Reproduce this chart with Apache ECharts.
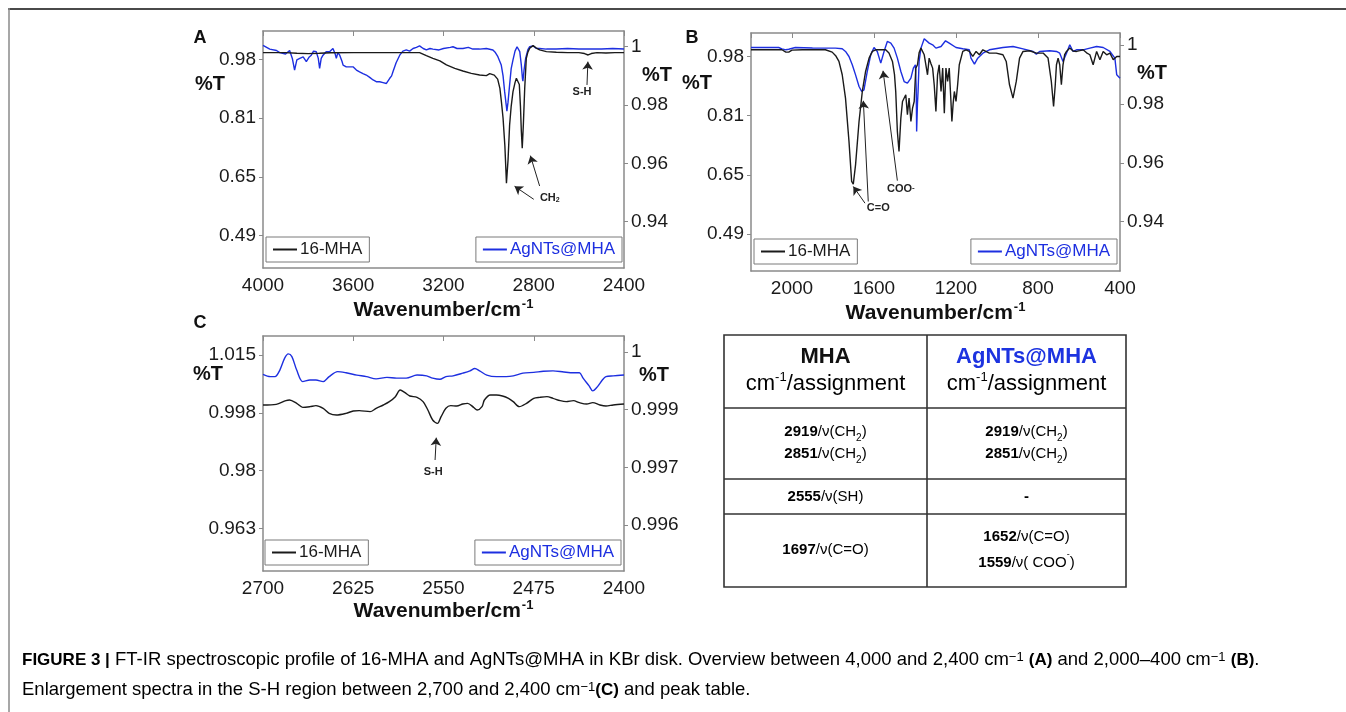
<!DOCTYPE html>
<html>
<head>
<meta charset="utf-8">
<script src="https://cdn.jsdelivr.net/npm/echarts@6/dist/echarts.min.js"></script>
<style>
html,body{margin:0;padding:0;background:#fff;}
#chart{width:1346px;height:712px;}
</style>
</head>
<body>
<div id="chart"></div>
<script>
// ---------------- DATA ----------------
// Panel A (4000-2400 cm-1): [wavenumber, %T]
const specA_MHA = [[4000,0.9985],[3950,0.9985],[3900,0.9985],[3850,0.9966],[3800,0.9957],[3750,0.9966],[3700,0.998],[3600,0.9985],[3500,0.9985],[3400,0.9985],[3306,0.9985],[3276,0.9902],[3247,0.9828],[3216,0.9754],[3187,0.9643],[3150,0.955],[3114,0.9476],[3077,0.941],[3040,0.9365],[3010,0.9346],[2995,0.940],[2975,0.936],[2960,0.925],[2950,0.8994],[2943,0.86],[2936,0.8161],[2928,0.74],[2921,0.6355],[2919,0.632],[2914,0.70],[2907,0.7976],[2900,0.8494],[2892,0.8902],[2883,0.9152],[2877,0.9272],[2870,0.930],[2864,0.91],[2859,0.85],[2855,0.78],[2851,0.7328],[2846,0.80],[2840,0.9004],[2833,0.9828],[2826,1.000],[2818,1.0107],[2803,1.018],[2790,1.012],[2774,1.006],[2744,1.0013],[2700,0.9994],[2650,0.9985],[2600,0.9985],[2575,0.996],[2559,0.992],[2545,0.996],[2520,0.9985],[2480,0.9975],[2440,0.9985],[2400,0.9985]];
const specA_AgNT = [[4000,1.0005],[3970,0.9992],[3940,0.9987],[3926,0.998],[3900,0.9975],[3882,0.9987],[3870,0.996],[3860,0.992],[3850,0.9955],[3837,0.996],[3822,0.9965],[3808,0.9949],[3795,0.9965],[3786,0.9971],[3776,0.9985],[3764,0.9983],[3755,0.996],[3749,0.9926],[3742,0.996],[3734,0.9971],[3720,0.9983],[3705,0.9983],[3690,0.9994],[3680,0.9975],[3675,0.996],[3668,0.998],[3660,0.9971],[3650,0.995],[3645,0.9937],[3631,0.9931],[3615,0.9931],[3601,0.9931],[3586,0.992],[3572,0.9914],[3557,0.9908],[3542,0.9903],[3527,0.9895],[3512,0.9886],[3498,0.988],[3483,0.988],[3468,0.9877],[3453,0.9874],[3445,0.988],[3439,0.9891],[3430,0.990],[3424,0.9914],[3410,0.9945],[3394,0.9971],[3380,0.9985],[3365,0.9989],[3350,0.9985],[3335,0.9994],[3320,0.9998],[3306,1.0003],[3290,0.9994],[3276,0.9989],[3260,0.9994],[3247,0.9992],[3220,0.9989],[3200,0.9994],[3170,0.9998],[3158,1.0],[3140,0.9994],[3114,0.9994],[3090,0.9998],[3070,0.9992],[3040,0.9992],[3010,0.9994],[2981,0.9989],[2970,0.998],[2959,0.9966],[2944,0.9937],[2936,0.990],[2929,0.9846],[2922,0.980],[2919,0.9779],[2914,0.981],[2907,0.9869],[2900,0.9925],[2892,0.9955],[2883,0.9985],[2874,1.0],[2868,0.9995],[2862,0.9983],[2855,0.9937],[2850,0.989],[2848,0.9882],[2843,0.992],[2836,0.996],[2826,0.999],[2818,1.0],[2803,1.0003],[2790,0.9995],[2774,0.9994],[2744,0.9992],[2700,0.9992],[2650,0.9994],[2600,0.9992],[2560,0.9992],[2500,0.9992],[2450,0.9994],[2400,0.9992]];
// Panel B (2200-400 cm-1)
const specB_MHA = [[2200,0.9984],[2100,0.9984],[2049,0.9984],[2030,0.9919],[2016,0.992],[2000,0.9975],[1950,0.9984],[1880,0.9984],[1837,0.9984],[1804,0.9919],[1787,0.982],[1771,0.9662],[1755,0.9295],[1739,0.8651],[1722,0.7457],[1709,0.6354],[1701,0.628],[1690,0.6813],[1673,0.8008],[1657,0.8835],[1641,0.9386],[1624,0.9754],[1608,0.9938],[1592,0.9984],[1560,0.9984],[1543,0.9984],[1527,0.9892],[1510,0.9662],[1500,0.93],[1494,0.8835],[1486,0.7732],[1478,0.7181],[1469,0.81],[1461,0.8559],[1453,0.86],[1445,0.8743],[1437,0.8192],[1429,0.8651],[1420,0.8008],[1412,0.8376],[1404,0.8559],[1396,0.9478],[1388,0.957],[1380,0.99],[1371,1.003],[1355,0.9846],[1347,0.9846],[1339,0.9295],[1331,0.9754],[1322,0.96],[1314,0.9478],[1306,0.90],[1298,0.8284],[1290,0.9295],[1282,0.957],[1273,0.8835],[1265,0.9478],[1257,0.8238],[1249,0.9478],[1241,0.9111],[1233,0.9478],[1225,0.86],[1220,0.8008],[1214,0.85],[1208,0.8835],[1200,0.8559],[1192,0.9019],[1184,0.957],[1167,0.9938],[1151,0.9984],[1135,0.9938],[1118,0.98],[1102,0.9938],[1086,0.9846],[1069,0.9984],[1037,0.9892],[1004,0.9892],[971,0.9846],[955,0.9662],[939,0.9019],[922,0.8651],[906,0.9111],[890,0.9754],[873,0.9938],[841,0.9956],[808,0.9892],[775,0.9892],[751,0.9754],[735,0.9111],[724,0.8422],[716,0.90],[710,0.957],[702,0.9754],[694,0.957],[686,0.9019],[678,0.957],[670,0.985],[661,0.9938],[645,1.003],[629,0.995],[612,0.9938],[596,0.996],[580,0.9984],[563,0.99],[547,0.9846],[531,0.957],[514,0.9938],[498,0.9708],[482,0.9938],[465,0.9846],[449,0.9892],[433,0.9708],[416,0.98],[400,0.98]];
const specB_AgNT = [[2200,0.99909],[2100,0.99909],[2065,0.99909],[2049,0.99864],[2030,0.9983],[2016,0.9985],[1984,0.99909],[1900,0.9989],[1869,0.99887],[1788,0.99887],[1755,0.99864],[1739,0.99774],[1722,0.99604],[1706,0.99321],[1690,0.98981],[1673,0.98585],[1660,0.98415],[1649,0.98472],[1633,0.99094],[1616,0.9966],[1600,0.99909],[1584,0.99774],[1567,0.99377],[1559,0.9935],[1551,0.99774],[1535,1.00113],[1518,1.00057],[1502,0.99887],[1486,0.99547],[1469,0.99094],[1453,0.98755],[1437,0.98698],[1420,0.98868],[1408,0.99208],[1398,0.99321],[1394,0.985],[1392,0.97057],[1388,0.98],[1385,0.98415],[1380,0.99434],[1371,0.99887],[1355,1.00204],[1331,1.00057],[1314,1.0],[1298,0.99887],[1273,0.99943],[1251,1.00136],[1233,1.00057],[1200,0.99909],[1167,0.99864],[1135,0.9983],[1127,0.99547],[1110,0.99343],[1094,0.99547],[1069,0.99717],[1037,0.9983],[971,0.99909],[922,0.99943],[873,0.99864],[824,0.99774],[808,0.99683],[792,0.99774],[743,0.99796],[710,0.99774],[694,0.99717],[678,0.99434],[661,0.99717],[645,1.0],[629,0.99774],[612,0.9983],[580,0.9983],[547,0.99887],[514,0.99943],[482,0.99909],[449,0.99774],[425,0.99547],[416,0.98981],[400,0.98868]];
// Panel C (2700-2400 cm-1)
const specC_MHA = [[2700,1.0],[2689,1.0002],[2681,1.0013],[2678,1.0015],[2672,1.0005],[2667,0.9993],[2661,0.9995],[2656,0.9998],[2650,0.999],[2645,0.9975],[2639,0.997],[2631,0.9975],[2625,0.9982],[2620,0.9983],[2611,0.998],[2606,0.999],[2600,1.0],[2595,1.001],[2590,1.0025],[2586,1.0045],[2582,1.0037],[2578,1.0027],[2572,1.0023],[2567,1.001],[2563,0.9985],[2559,0.9955],[2555,0.9945],[2552,0.9965],[2548,0.999],[2544,0.9998],[2539,0.9997],[2534,1.0003],[2530,1.0005],[2525,0.9993],[2522,0.9985],[2518,0.9995],[2516,1.0015],[2511,1.003],[2506,1.003],[2501,1.0027],[2496,1.002],[2492,1.001],[2487,0.9995],[2481,1.0005],[2475,1.002],[2470,1.0023],[2464,1.0025],[2459,1.002],[2453,1.0013],[2448,1.001],[2442,1.0013],[2437,1.0007],[2431,1.0003],[2426,1.0007],[2420,1.0],[2415,0.9997],[2409,1.0],[2400,1.0003]];
const specC_AgNT = [[2700,0.99942],[2694,0.99936],[2690,0.99936],[2686,0.99953],[2682,0.99984],[2679,0.99995],[2676,0.99988],[2672,0.99953],[2667,0.99923],[2661,0.99927],[2656,0.99927],[2650,0.99923],[2645,0.99936],[2638,0.99949],[2631,0.99946],[2622,0.9994],[2614,0.99936],[2606,0.9993],[2597,0.99934],[2589,0.99932],[2581,0.99932],[2572,0.9994],[2564,0.99938],[2559,0.99932],[2553,0.99929],[2548,0.99936],[2542,0.99938],[2534,0.99945],[2528,0.99951],[2524,0.99957],[2520,0.99951],[2514,0.9994],[2506,0.99936],[2498,0.99936],[2492,0.99938],[2484,0.99945],[2475,0.99947],[2467,0.9995],[2459,0.99951],[2450,0.99948],[2442,0.99946],[2437,0.99946],[2434,0.99932],[2429,0.99912],[2426,0.99899],[2422,0.9991],[2418,0.99927],[2415,0.99936],[2409,0.99938],[2400,0.9994]];

// Tick values and their printed labels
const tickA_left = [0.49, 0.65333, 0.81667, 0.98];
const labelA_left = ['0.49', '0.65', '0.81', '0.98'];
const tickA_right = [0.94, 0.96, 0.98, 1];
const labelA_right = ['0.94', '0.96', '0.98', '1'];
const tickB_left = [0.49, 0.65333, 0.81667, 0.98];
const labelB_left = ['0.49', '0.65', '0.81', '0.98'];
const tickB_right = [0.94, 0.96, 0.98, 1];
const labelB_right = ['0.94', '0.96', '0.98', '1'];
const tickC_left = [0.963, 0.98033, 0.99767, 1.015];
const labelC_left = ['0.963', '0.98', '0.998', '1.015'];
const tickC_right = [0.9955, 0.997, 0.9985, 1];
const labelC_right = ['0.996', '0.997', '0.999', '1'];
const xLabelsA = [2400, 2800, 3200, 3600, 4000];
const xLabelsB = [400, 800, 1200, 1600, 2000];
const xLabelsC = [2400, 2475, 2550, 2625, 2700];

const seriesNames = ['16-MHA', 'AgNTs@MHA'];

// Annotations (data coordinates of the black/left axis): label point, arrow tail, arrow head
const annotA = [
  {text: '{b|S-H}', at: [2586, 0.890], from: [2564, 0.9087], to: [2560, 0.9735]},
  {text: '{b|CH}{s|2}', at: [2729, 0.5957], from: [2800, 0.5911], to: [2885, 0.6272]},
  {text: '', at: null, from: [2774, 0.6281], to: [2815, 0.7124]}
];
const annotB = [
  {text: '{b|C=O}', at: [1579, 0.5618], from: [1644, 0.5756], to: [1701, 0.6216]},
  {text: '', at: null, from: [1628, 0.5802], to: [1652, 0.8578]},
  {text: '{b|COO}{p|-}', at: [1469, 0.6142], from: [1486, 0.6377], to: [1556, 0.9405]}
];
const annotC = [
  {text: '{b|S-H}', at: [2558.6, 0.9798], from: [2557, 0.9835], to: [2556, 0.9902]}
];

// Peak table
const tableHead = [
  {title: 'MHA', color: '#111'},
  {title: 'AgNTs@MHA', color: '#1d33e0'}
];
const tableRows = [
  ['{b|2919}{n|/ν(CH}{s|2}{n|)}\n{b|2851}{n|/ν(CH}{s|2}{n|)}', '{b|2919}{n|/ν(CH}{s|2}{n|)}\n{b|2851}{n|/ν(CH}{s|2}{n|)}'],
  ['{b|2555}{n|/ν(SH)}', '{b|-}'],
  ['{b|1697}{n|/ν(C=O)}', '{b|1652}{n|/ν(C=O)}\n{b|1559}{n|/ν( COO}{p|-}{n|)}']
];

// ---------------- CHART ----------------
const FONT = 'Liberation Sans, Arial, Helvetica, sans-serif';
const BLACK = '#1a1a1a';
const BLUE = '#1d2fe0';
const AXISC = '#8a8a8a';

const grids = [
  {left: 263, top: 31, width: 361, height: 237},
  {left: 751, top: 33, width: 369, height: 238},
  {left: 263, top: 336, width: 361, height: 235}
];
const xCfg = [
  {min: 2400, max: 4000, interval: 400, labels: xLabelsA, nameGap: 30},
  {min: 400, max: 2200, interval: 400, labels: xLabelsB, nameGap: 30},
  {min: 2400, max: 2700, interval: 75, labels: xLabelsC, nameGap: 27}
];
const yCfg = [
  [{min: 0.4003, max: 1.0586, ticks: tickA_left, labels: labelA_left}, {min: 0.9241, max: 1.0054, ticks: tickA_right, labels: labelA_right}],
  [{min: 0.3887, max: 1.0446, ticks: tickB_left, labels: labelB_left}, {min: 0.9233, max: 1.004, ticks: tickB_right, labels: labelB_right}],
  [{min: 0.9502, max: 1.0207, ticks: tickC_left, labels: labelC_left}, {min: 0.994304, max: 1.000416, ticks: tickC_right, labels: labelC_right}]
];
const specs = [[specA_MHA, specA_AgNT], [specB_MHA, specB_AgNT], [specC_MHA, specC_AgNT]];
const annots = [annotA, annotB, annotC];

const xAxes = [], yAxes = [], series = [], legends = [];
const nameRich = {
  a: {fontSize: 21, fontWeight: 'bold', color: '#111', fontFamily: FONT, lineHeight: 24},
  b: {fontSize: 13, fontWeight: 'bold', color: '#111', fontFamily: FONT, verticalAlign: 'top', padding: [0, 0, 0, 1]}
};
grids.forEach((g, i) => {
  const xc = xCfg[i];
  xAxes.push({
    gridIndex: i, type: 'value', inverse: true, position: 'bottom',
    min: xc.min, max: xc.max, interval: xc.interval,
    axisLine: {lineStyle: {color: AXISC, width: 1.5}},
    axisTick: {show: false}, splitLine: {show: false},
    axisLabel: {fontSize: 19, color: '#1a1a1a', fontFamily: FONT, margin: 8,
      formatter: v => xc.labels.indexOf(v) >= 0 ? String(v) : ''},
    name: '{a|Wavenumber/cm}{b|-1}', nameLocation: 'middle', nameGap: xc.nameGap,
    nameTextStyle: {rich: nameRich}
  });
  xAxes.push({
    gridIndex: i, type: 'value', inverse: true, position: 'top',
    min: xc.min, max: xc.max, interval: xc.interval,
    axisLine: {lineStyle: {color: AXISC, width: 1.5}},
    axisTick: {show: true, inside: true, length: 5, lineStyle: {color: AXISC}},
    axisLabel: {show: false}, splitLine: {show: false}
  });
  yCfg[i].forEach((yc, k) => {
    const fmt = v => {
      const j = yc.ticks.findIndex(t => Math.abs(t - v) < 1e-7);
      return j >= 0 ? yc.labels[j] : '';
    };
    yAxes.push({
      gridIndex: i, type: 'value', position: k === 0 ? 'left' : 'right',
      min: yc.min, max: yc.max,
      axisLine: {show: true, onZero: false, lineStyle: {color: AXISC, width: 1.5}},
      axisTick: {show: true, length: 4, customValues: yc.ticks, lineStyle: {color: AXISC}},
      axisLabel: {fontSize: 19, color: '#1a1a1a', fontFamily: FONT, margin: 7, customValues: yc.ticks, formatter: fmt},
      splitLine: {show: false}
    });
  });
  const ann = annots[i];
  const mlData = ann.map(a => [{coord: a.from}, {coord: a.to}]);
  const mpData = ann.filter(a => a.at).map(a => ({coord: a.at, value: a.text}));
  [0, 1].forEach(k => {
    const s = {
      name: seriesNames[k], type: 'line', xAxisIndex: i * 2, yAxisIndex: i * 2 + k,
      data: specs[i][k], showSymbol: false, symbol: 'none',
      smooth: i === 2 ? 0.3 : false,
      lineStyle: {color: k === 0 ? BLACK : BLUE, width: 1.4},
      itemStyle: {color: k === 0 ? BLACK : BLUE},
      z: k === 0 ? 3 : 2, silent: true
    };
    if (k === 0) {
      s.markLine = {
        silent: true, symbol: ['none', 'arrow'], symbolSize: 8,
        label: {show: false},
        lineStyle: {color: '#222', width: 1, type: 'solid', opacity: 1},
        itemStyle: {color: '#222'},
        emphasis: {disabled: true},
        data: mlData, animation: false
      };
      s.markPoint = {
        silent: true, symbol: 'rect', symbolSize: 1,
        itemStyle: {color: 'rgba(0,0,0,0)'},
        label: {show: true, position: 'inside', formatter: p => p.value,
          rich: {
            b: {fontSize: 11, fontWeight: 'bold', color: '#222', fontFamily: FONT},
            s: {fontSize: 7, fontWeight: 'bold', color: '#222', fontFamily: FONT, verticalAlign: 'bottom'},
            p: {fontSize: 8, fontWeight: 'bold', color: '#222', fontFamily: FONT, verticalAlign: 'top'}
          }},
        data: mpData, animation: false
      };
    }
    series.push(s);
  });
});

const legendPos = [
  [{left: 266, top: 237}, {right: 724, top: 237}],
  [{left: 754, top: 239}, {right: 229, top: 239}],
  [{left: 265, top: 540}, {right: 725, top: 540}]
];
legendPos.forEach(pair => {
  pair.forEach((pos, k) => {
    legends.push(Object.assign({
      data: [{name: seriesNames[k], textStyle: {color: k === 0 ? '#1a1a1a' : BLUE}}],
      orient: 'horizontal', icon: 'rect', itemWidth: 24, itemHeight: 2, itemGap: 5,
      padding: [4, 7, 4, 7], borderColor: '#7a7a7a', borderWidth: 1, borderRadius: 0,
      backgroundColor: '#fff', selectedMode: false,
      textStyle: {fontSize: 17, fontFamily: FONT, padding: [0, 0, 0, -2]}
    }, pos));
  });
});

// Graphic texts: panel letters, %T labels, table, caption, frame
const g = [];
const txt = (x, y, text, font, fill, align) => ({type: 'text', x: x, y: y, silent: true,
  style: {text: text, font: font, fill: fill || '#111', align: align || 'center', verticalAlign: 'middle'}});
g.push({type: 'line', silent: true, shape: {x1: 8, y1: 9, x2: 1346, y2: 9}, style: {stroke: '#4a4a4a', lineWidth: 2}});
g.push({type: 'line', silent: true, shape: {x1: 9, y1: 8, x2: 9, y2: 712}, style: {stroke: '#8a8a8a', lineWidth: 1.5}});
[['A', 200, 38], ['B', 692, 38], ['C', 200, 323]].forEach(p => g.push(txt(p[1], p[2], p[0], 'bold 18px ' + FONT)));
[[210, 84], [657, 75], [697, 83], [1152, 73], [208, 374], [654, 375]].forEach(p => g.push(txt(p[0], p[1], '%T', 'bold 20px ' + FONT)));

// table
const T = {x: 724, y: 335, w: 402, h: 252, cx: 927, rows: [408, 479, 514]};
g.push({type: 'rect', silent: true, shape: {x: T.x, y: T.y, width: T.w, height: T.h}, style: {fill: 'none', stroke: '#333', lineWidth: 1.6}});
g.push({type: 'line', silent: true, shape: {x1: T.cx, y1: T.y, x2: T.cx, y2: T.y + T.h}, style: {stroke: '#333', lineWidth: 1.6}});
T.rows.forEach(yy => g.push({type: 'line', silent: true, shape: {x1: T.x, y1: yy, x2: T.x + T.w, y2: yy}, style: {stroke: '#333', lineWidth: 1.6}}));
const colC = [(T.x + T.cx) / 2, (T.cx + T.x + T.w) / 2];
const cellRich = {
  b: {fontSize: 15, fontWeight: 'bold', fontFamily: FONT, color: '#111', lineHeight: 22},
  n: {fontSize: 15, fontFamily: FONT, color: '#111', lineHeight: 22},
  s: {fontSize: 10, fontFamily: FONT, color: '#111', verticalAlign: 'bottom', lineHeight: 22},
  p: {fontSize: 9, fontFamily: FONT, color: '#111', verticalAlign: 'top', lineHeight: 22}
};
const rich = (x, y, text, r, align) => ({type: 'text', x: x, y: y, silent: true,
  style: {text: text, rich: r, align: align || 'center', verticalAlign: 'middle'}});
tableHead.forEach((h, k) => {
  g.push(txt(colC[k], 357, h.title, 'bold 22px ' + FONT, h.color));
  g.push(rich(colC[k], 384, '{n|cm}{p|-1}{n|/assignment}', {
    n: {fontSize: 22, fontFamily: FONT, color: '#111', lineHeight: 26},
    p: {fontSize: 13, fontFamily: FONT, color: '#111', verticalAlign: 'top', lineHeight: 26}
  }));
});
const rowCenters = [[443, 443], [497, 497], [550, 550]];
tableRows.forEach((row, r) => {
  row.forEach((cell, k) => {
    const rr = Object.assign({}, cellRich);
    if (r === 2 && k === 1) {
      rr.b = Object.assign({}, cellRich.b, {lineHeight: 26});
      rr.n = Object.assign({}, cellRich.n, {lineHeight: 26});
      rr.s = Object.assign({}, cellRich.s, {lineHeight: 26});
      rr.p = Object.assign({}, cellRich.p, {lineHeight: 26});
    }
    g.push(rich(colC[k], rowCenters[r][k], cell, rr));
  });
});

// caption
const capRich = {
  b: {fontSize: 17, fontWeight: 'bold', fontFamily: FONT, color: '#222'},
  n: {fontSize: 18.5, fontFamily: FONT, color: '#333'},
  p: {fontSize: 13, fontFamily: FONT, color: '#333', verticalAlign: 'top'}
};
g.push(rich(22, 660, '{b|FIGURE 3 |}{n| FT-IR spectroscopic profile of 16-MHA and AgNTs@MHA in KBr disk. Overview between 4,000 and 2,400 cm}{p|−1}{n| }{b|(A)}{n| and 2,000–400 cm}{p|−1}{n| }{b|(B)}{n|.}', capRich, 'left'));
g.push(rich(22, 690, '{n|Enlargement spectra in the S-H region between 2,700 and 2,400 cm}{p|−1}{b|(C)}{n| and peak table.}', capRich, 'left'));

const chart = echarts.init(document.getElementById('chart'), null, {renderer: 'canvas'});
chart.setOption({
  animation: false,
  backgroundColor: '#fff',
  textStyle: {fontFamily: FONT},
  grid: grids,
  xAxis: xAxes,
  yAxis: yAxes,
  legend: legends,
  series: series,
  graphic: g
});
</script>
</body>
</html>
